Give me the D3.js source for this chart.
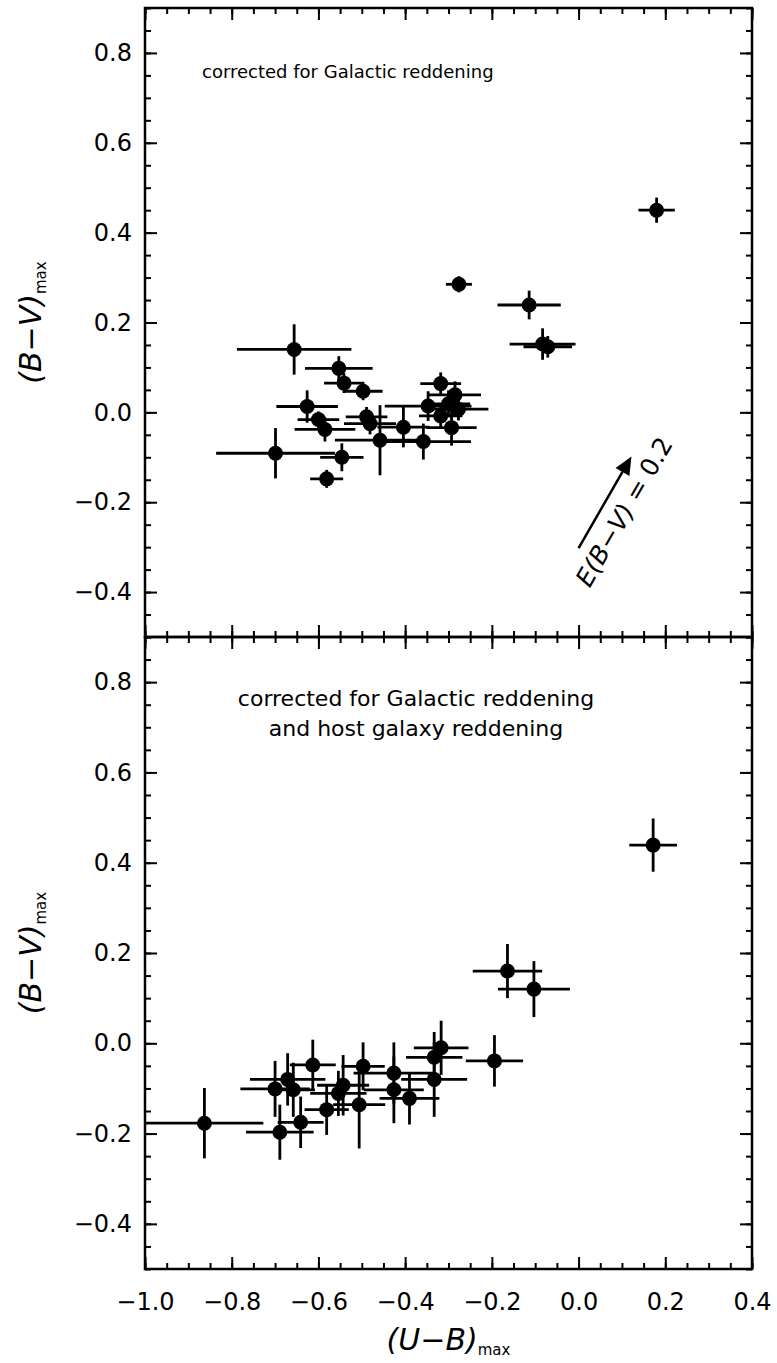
<!DOCTYPE html>
<html>
<head>
<meta charset="utf-8">
<script src="https://cdn.jsdelivr.net/npm/d3@7"></script>
<style>
  body { margin: 0; background: #fff; }
  text { font-family: "DejaVu Sans", sans-serif; fill: #000; }
</style>
</head>
<body>
<div id="chart"></div>
<script>
// Top panel: corrected for Galactic reddening only
var topUB    = [0.180, -0.276, -0.114, -0.083, -0.071, -0.656, -0.553, -0.541, -0.497, -0.626, -0.600, -0.585, -0.489, -0.481,
                -0.458, -0.699, -0.546, -0.581, -0.404, -0.358, -0.347, -0.318, -0.318, -0.293, -0.300, -0.285, -0.277];
var topBV    = [0.450, 0.285, 0.239, 0.152, 0.146, 0.140, 0.098, 0.065, 0.047, 0.013, -0.016, -0.038, -0.010, -0.025,
                -0.062, -0.091, -0.100, -0.148, -0.033, -0.065, 0.014, 0.064, -0.008, -0.034, 0.019, 0.039, 0.007];
var topErrUB = [0.042, 0.030, 0.073, 0.076, 0.056, 0.132, 0.078, 0.046, 0.045, 0.071, 0.048, 0.070, 0.048, 0.060,
                0.104, 0.137, 0.050, 0.038, 0.060, 0.110, 0.100, 0.047, 0.050, 0.058, 0.050, 0.060, 0.069];
var topErrBV = [0.028, 0.018, 0.032, 0.035, 0.024, 0.056, 0.027, 0.022, 0.020, 0.036, 0.018, 0.027, 0.022, 0.024,
                0.078, 0.056, 0.031, 0.020, 0.045, 0.040, 0.033, 0.025, 0.027, 0.040, 0.030, 0.030, 0.025];

// Bottom panel: corrected for Galactic and host galaxy reddening
var botUB    = [-0.863, -0.689, -0.700, -0.671, -0.658, -0.613, -0.641, -0.581, -0.543, -0.554, -0.497, -0.506, -0.426, -0.426,
                -0.390, -0.333, -0.333, -0.317, -0.194, -0.164, -0.103, 0.172];
var botBV    = [-0.177, -0.197, -0.101, -0.080, -0.103, -0.048, -0.175, -0.147, -0.093, -0.111, -0.051, -0.136, -0.066, -0.103,
                -0.122, -0.080, -0.031, -0.010, -0.039, 0.160, 0.120, 0.439];
var botErrUB = [0.136, 0.078, 0.080, 0.087, 0.050, 0.053, 0.053, 0.051, 0.060, 0.065, 0.050, 0.060, 0.093, 0.069,
                0.069, 0.076, 0.065, 0.063, 0.066, 0.080, 0.083, 0.055];
var botErrBV = [0.078, 0.061, 0.062, 0.058, 0.060, 0.056, 0.057, 0.056, 0.067, 0.050, 0.053, 0.097, 0.068, 0.074,
                0.058, 0.083, 0.056, 0.060, 0.057, 0.060, 0.062, 0.059];

var xTickVals = [-1.0, -0.8, -0.6, -0.4, -0.2, 0.0, 0.2, 0.4];
var yTickVals = [-0.4, -0.2, 0.0, 0.2, 0.4, 0.6, 0.8];
var topNote = ["corrected for Galactic reddening"];
var botNote = ["corrected for Galactic reddening", "and host galaxy reddening"];
// reddening vector E(B-V) = 0.2, in data units
var vecStart = [0.000, -0.302];
var vecEnd   = [0.122, -0.098];

var W = 777, H = 1363;
var left = 145, right = 752;

var svg = d3.select("#chart").append("svg")
    .attr("width", W)
    .attr("height", H);

var x = d3.scaleLinear().domain([-1.0, 0.4]).range([left, right]);
var minorX = d3.range(-1.0, 0.401, 0.05);
var minorY = d3.range(-0.5, 0.901, 0.05);

function drawPanel(top, bottom, ub, bv, eub, ebv, showX) {
    var y = d3.scaleLinear().domain([-0.5, 0.9]).range([bottom, top]);
    var g = svg.append("g");

    // error bars
    var pts = ub.map(function(d, i) { return {u: d, b: bv[i], eu: eub[i], eb: ebv[i]}; });
    g.selectAll(".ex").data(pts).enter().append("line")
        .attr("x1", function(d) { return x(d.u - d.eu); })
        .attr("x2", function(d) { return x(d.u + d.eu); })
        .attr("y1", function(d) { return y(d.b); })
        .attr("y2", function(d) { return y(d.b); })
        .attr("stroke", "#000").attr("stroke-width", 2.8);
    g.selectAll(".ey").data(pts).enter().append("line")
        .attr("x1", function(d) { return x(d.u); })
        .attr("x2", function(d) { return x(d.u); })
        .attr("y1", function(d) { return y(d.b - d.eb); })
        .attr("y2", function(d) { return y(d.b + d.eb); })
        .attr("stroke", "#000").attr("stroke-width", 2.8);
    g.selectAll("circle").data(pts).enter().append("circle")
        .attr("cx", function(d) { return x(d.u); })
        .attr("cy", function(d) { return y(d.b); })
        .attr("r", 7.5)
        .attr("fill", "#000");

    // axes, ticks pointing inward
    [d3.axisLeft(y).tickValues(yTickVals).tickSizeInner(-12).tickSizeOuter(0).tickPadding(13).tickFormat(d3.format(".1f")),
     d3.axisLeft(y).tickValues(minorY).tickSizeInner(-6).tickSizeOuter(0).tickFormat("")].forEach(function(a) {
        svg.append("g").attr("class", "axis").attr("transform", "translate(" + left + ",0)").call(a);
    });
    [d3.axisRight(y).tickValues(yTickVals).tickSizeInner(-12).tickSizeOuter(0).tickFormat(""),
     d3.axisRight(y).tickValues(minorY).tickSizeInner(-6).tickSizeOuter(0).tickFormat("")].forEach(function(a) {
        svg.append("g").attr("class", "axis").attr("transform", "translate(" + right + ",0)").call(a);
    });
    var xb = d3.axisBottom(x).tickValues(xTickVals).tickSizeInner(-12).tickSizeOuter(0).tickPadding(24)
        .tickFormat(showX ? d3.format(".1f") : "");
    svg.append("g").attr("class", "axis").attr("transform", "translate(0," + bottom + ")").call(xb);
    svg.append("g").attr("class", "axis").attr("transform", "translate(0," + bottom + ")")
        .call(d3.axisBottom(x).tickValues(minorX).tickSizeInner(-6).tickSizeOuter(0).tickFormat(""));
    svg.append("g").attr("class", "axis").attr("transform", "translate(0," + top + ")")
        .call(d3.axisTop(x).tickValues(xTickVals).tickSizeInner(-12).tickSizeOuter(0).tickFormat(""));
    svg.append("g").attr("class", "axis").attr("transform", "translate(0," + top + ")")
        .call(d3.axisTop(x).tickValues(minorX).tickSizeInner(-6).tickSizeOuter(0).tickFormat(""));

    // frame
    svg.append("rect")
        .attr("x", left).attr("y", top)
        .attr("width", right - left).attr("height", bottom - top)
        .attr("fill", "none").attr("stroke", "#000").attr("stroke-width", 2.5);

    // y title
    var yt = svg.append("text")
        .attr("transform", "translate(41," + ((top + bottom) / 2) + ") rotate(-90)")
        .attr("text-anchor", "middle")
        .style("font-size", "30px");
    yt.append("tspan").style("font-style", "italic").text("(B\u2212V)");
    yt.append("tspan").attr("dy", 5).style("font-size", "15px").text("max");

    return y;
}

var yTop = drawPanel(8, 637, topUB, topBV, topErrUB, topErrBV, false);
var yBot = drawPanel(637, 1269, botUB, botBV, botErrUB, botErrBV, true);

svg.selectAll(".axis path.domain").remove();
svg.selectAll(".axis line").attr("stroke", "#000").attr("stroke-width", 2);
svg.selectAll(".axis text").style("font-size", "24px").style("font-family", "DejaVu Sans, sans-serif");

// notes
svg.selectAll(".topnote").data(topNote).enter().append("text")
    .attr("x", 202).attr("y", 78)
    .style("font-size", "18px")
    .text(function(d) { return d; });
svg.selectAll(".botnote").data(botNote).enter().append("text")
    .attr("x", 416).attr("y", function(d, i) { return 706 + i * 30; })
    .attr("text-anchor", "middle")
    .style("font-size", "22px")
    .text(function(d) { return d; });

// reddening vector
var x0 = x(vecStart[0]), y0 = yTop(vecStart[1]);
var x1 = x(vecEnd[0]), y1 = yTop(vecEnd[1]);
var ang = Math.atan2(y1 - y0, x1 - x0);
var headLen = 18, headW = 8;
var bx = x1 - headLen * Math.cos(ang), by = y1 - headLen * Math.sin(ang);
svg.append("line")
    .attr("x1", x0).attr("y1", y0).attr("x2", bx).attr("y2", by)
    .attr("stroke", "#000").attr("stroke-width", 2.5);
svg.append("polygon")
    .attr("points", [
        [x1, y1],
        [bx + headW * Math.sin(ang), by - headW * Math.cos(ang)],
        [bx - headW * Math.sin(ang), by + headW * Math.cos(ang)]
    ].map(function(p) { return p.join(","); }).join(" "))
    .attr("fill", "#000");

var deg = ang * 180 / Math.PI;
var vt = svg.append("text")
    .attr("transform", "translate(" + x(0.026) + "," + yTop(-0.392) + ") rotate(" + deg + ")")
    .style("font-size", "25px");
vt.append("tspan").style("font-style", "italic").text("E(B\u2212V)");
vt.append("tspan").text(" = 0.2");

// x title
var xt = svg.append("text")
    .attr("x", (left + right) / 2).attr("y", 1350)
    .attr("text-anchor", "middle")
    .style("font-size", "30px");
xt.append("tspan").style("font-style", "italic").text("(U\u2212B)");
xt.append("tspan").attr("dy", 5).style("font-size", "15px").text("max");
</script>
</body>
</html>
